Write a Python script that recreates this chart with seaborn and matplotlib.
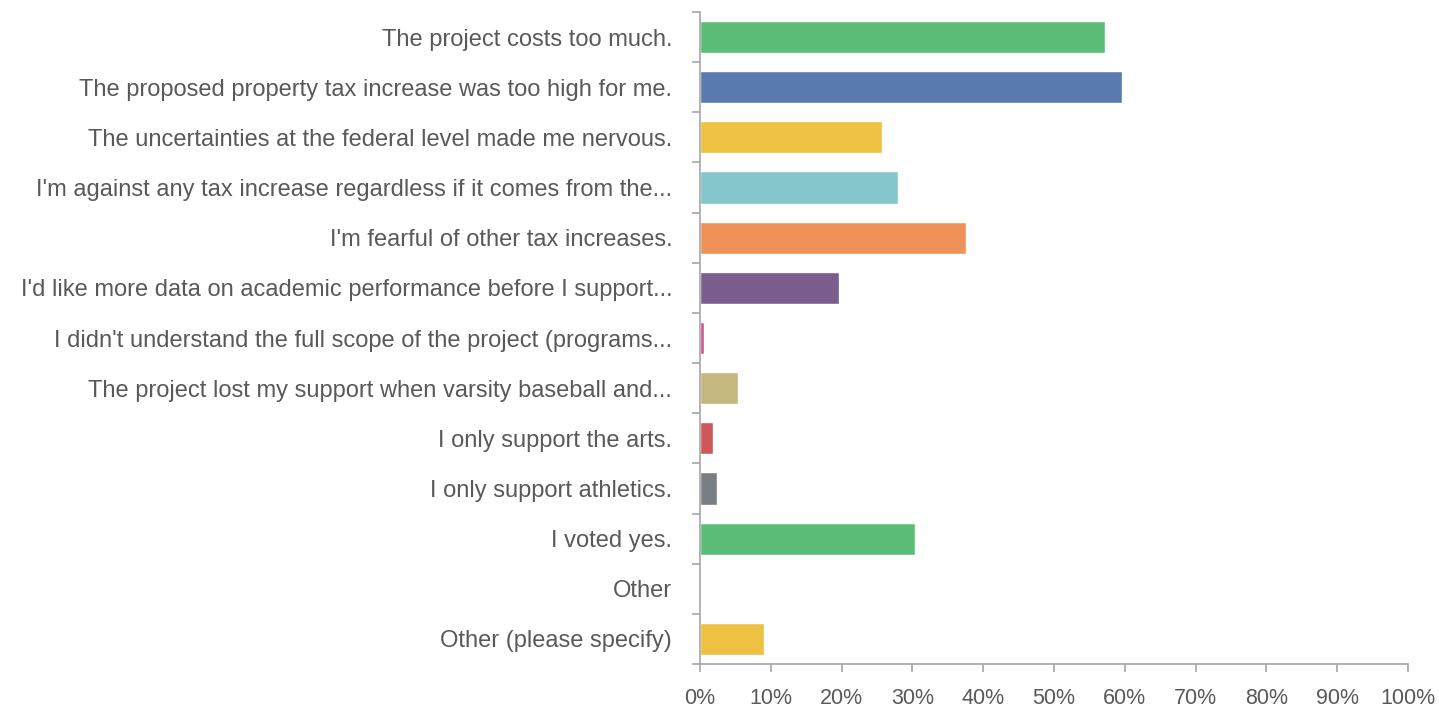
import numpy as np
import pandas as pd
import matplotlib
matplotlib.use('Agg')
import matplotlib.pyplot as plt
import seaborn as sns
from matplotlib.ticker import PercentFormatter, FixedLocator

labels = [
    'The project costs too much.',
    'The proposed property tax increase was too high for me.',
    'The uncertainties at the federal level made me nervous.',
    "I'm against any tax increase regardless if it comes from the...",
    "I'm fearful of other tax increases.",
    "I'd like more data on academic performance before I support...",
    "I didn't understand the full scope of the project (programs...",
    'The project lost my support when varsity baseball and...',
    'I only support the arts.',
    'I only support athletics.',
    'I voted yes.',
    'Other',
    'Other (please specify)',
]
values = [57.2, 59.6, 25.7, 28.0, 37.5, 19.7, 0.6, 5.4, 1.8, 2.4, 30.4, 0.0, 9.0]
colors = ['#5bbd78', '#5a7bb0', '#efc143', '#85c6cb', '#ef9159', '#7b5e8e',
          '#cc5b8b', '#c4b87e', '#cf5759', '#787e85', '#5bbd78', '#efc143', '#efc143']

df = pd.DataFrame({'answer': labels, 'pct': values})

sns.set_style('white')
plt.rcParams['font.family'] = ['Liberation Sans', 'DejaVu Sans']

fig = plt.figure(figsize=(14.39, 7.11), dpi=100)
ax = fig.add_axes([700 / 1439, 1 - 664 / 711, 708 / 1439, 652 / 711])

sns.barplot(data=df, x='pct', y='answer', hue='answer', palette=colors,
            orient='h', width=0.64, legend=False, ax=ax, saturation=1)

ax.set_xlim(0, 100)
ax.set_ylim(len(labels) - 0.5, -0.5)
ax.set_xlabel('')
ax.set_ylabel('')
ax.xaxis.set_major_locator(FixedLocator(np.arange(0, 101, 10)))
ax.xaxis.set_major_formatter(PercentFormatter(decimals=0))

for s in ['top', 'right']:
    ax.spines[s].set_visible(False)
for s in ['left', 'bottom']:
    ax.spines[s].set_color('#a6a6a6')
    ax.spines[s].set_linewidth(1.2)

ax.yaxis.set_minor_locator(FixedLocator(np.arange(-0.5, len(labels), 1)))
ax.tick_params(axis='y', which='major', length=0, pad=20, labelsize=17, labelcolor='#595959')
ax.tick_params(axis='y', which='minor', length=6, width=1.2, color='#a6a6a6', left=True)
ax.tick_params(axis='x', which='major', length=6, width=1.2, color='#a6a6a6', bottom=True,
               labelsize=15.5, labelcolor='#595959', pad=11)

fig.savefig('out.png', dpi=100)
